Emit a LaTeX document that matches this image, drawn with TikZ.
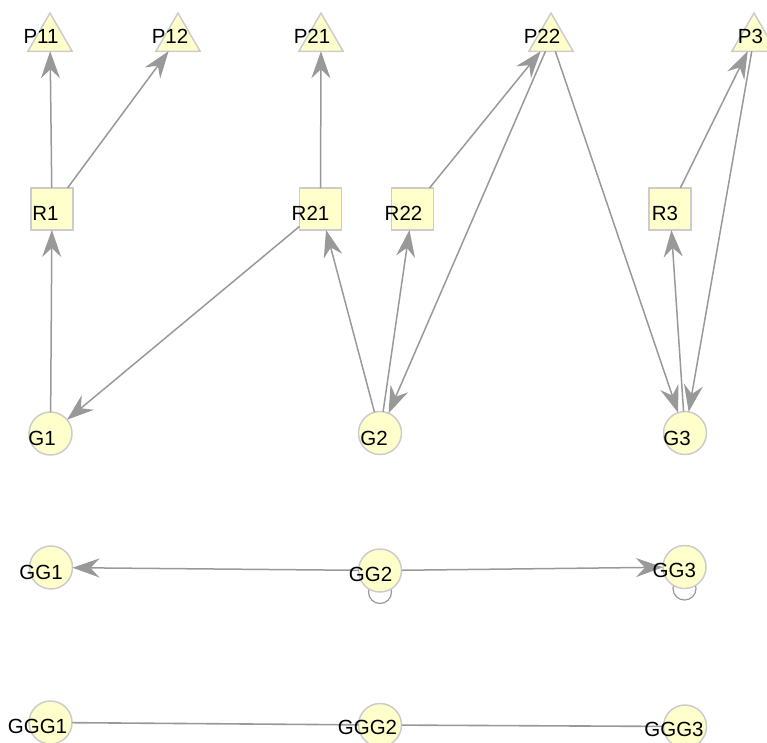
\documentclass[tikz,border=0pt]{standalone}
\usepackage{fontspec}
\setmainfont{Liberation Sans}
\usetikzlibrary{arrows.meta,shapes.geometric,backgrounds}
\definecolor{nodefill}{HTML}{FFFFCC}
\definecolor{nodeline}{HTML}{CCCCCC}
\definecolor{edgecol}{HTML}{999999}
\begin{document}
\begin{tikzpicture}[x=1pt,y=-1pt,
  base/.style={fill=nodefill,draw=nodeline,line width=1.5pt,inner sep=0pt,outer sep=0pt},
  tri/.style={base,regular polygon,regular polygon sides=3,minimum size=51pt},
  sq/.style={base,rectangle,minimum size=42pt},
  circ/.style={base,circle,minimum size=43pt},
  lbl/.style={anchor=base,inner sep=0pt,font=\fontsize{20.5}{24}\selectfont},
  arr/.style={draw=edgecol,line width=1.5pt,-{Stealth[length=27pt,width=19pt,inset=9pt]}},
  plain/.style={draw=edgecol,line width=1.6pt},
  selfloop/.style={draw=edgecol,line width=1.2pt}
]
\useasboundingbox (0,0) rectangle (767,742);
% shapes
\node[tri] (P11) at (50,38.5) {};
\node[tri] (P12) at (178,38.5) {};
\node[tri] (P21) at (321,38.5) {};
\node[tri] (P22) at (551,38.5) {};
\node[tri] (P3) at (754,38.5) {};
\node[sq] (R1) at (52,209) {};
\node[sq] (R21) at (320.5,209) {};
\node[sq] (R22) at (412.5,209) {};
\node[sq] (R3) at (670,209) {};
\node[circ] (G1) at (50.5,433.5) {};
\node[circ] (G2) at (380,433) {};
\node[circ] (G3) at (685,433) {};
\node[circ] (GG1) at (51,567.5) {};
\node[circ] (GG2) at (380,570.5) {};
\node[circ] (GG3) at (684.5,567) {};
\node[circ] (GGG1) at (50.5,722.5) {};
\node[circ] (GGG2) at (380,725) {};
\node[circ] (GGG3) at (685,726.5) {};
% self loops behind nodes
\begin{scope}[on background layer]
\draw[selfloop] (GG2.south) circle (11.5);
\draw[selfloop] (GG3.south) circle (11.5);
\end{scope}
% edges
\draw[arr] (R1) -- (P11);
\draw[arr] (R1) -- (P12);
\draw[arr] (G1) -- (R1);
\draw[arr] (R21) -- (G1);
\draw[arr] (R21) -- (P21);
\draw[arr] (G2) -- (R21);
\draw[arr] (G2) -- (R22);
\draw[arr] (P22) -- (G2);
\draw[arr] (R22) -- (P22);
\draw[arr] (P22) -- (G3);
\draw[arr] (R3) -- (P3);
\draw[arr] (G3) -- (R3);
\draw[arr] (P3) -- (G3);
\draw[arr] (GG2) -- (GG1);
\draw[arr] (GG2) -- (GG3);
\draw[plain] (GGG1) -- (GGG2);
\draw[plain] (GGG2) -- (GGG3);
% labels
\node[lbl] (P11t) at (41,43.5) {P11};
\node[lbl] (P12t) at (170,43.5) {P12};
\node[lbl] (P21t) at (312,43.5) {P21};
\node[lbl] (P22t) at (542,43.5) {P22};
\node[lbl] (P3t) at (750.5,43.5) {P3};
\node[lbl] (R1t) at (45.5,220.5) {R1};
\node[lbl] (R21t) at (310.5,220.5) {R21};
\node[lbl] (R22t) at (403.5,220.5) {R22};
\node[lbl] (R3t) at (665,220.5) {R3};
\node[lbl] (G1t) at (42,445) {G1};
\node[lbl] (G2t) at (374,445) {G2};
\node[lbl] (G3t) at (677,445) {G3};
\node[lbl] (GG1t) at (41,579.3) {GG1};
\node[lbl] (GG2t) at (370.5,581.7) {GG2};
\node[lbl] (GG3t) at (674.3,577.3) {GG3};
\node[lbl] (GGG1t) at (37.5,733.7) {GGG1};
\node[lbl] (GGG2t) at (367.5,734) {GGG2};
\node[lbl] (GGG3t) at (674,736) {GGG3};
\end{tikzpicture}
\end{document}
